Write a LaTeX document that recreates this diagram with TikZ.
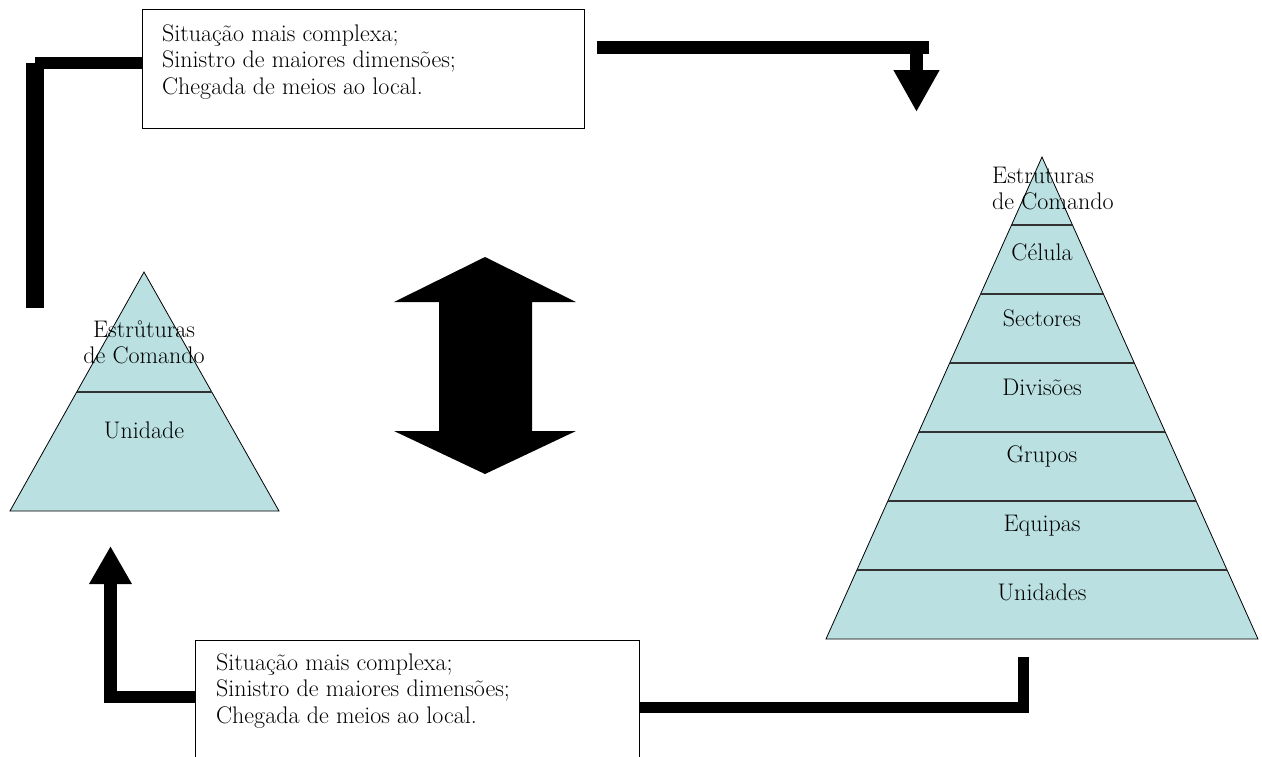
\documentclass[tikz,border=0pt]{standalone}
\usepackage{fontspec}
\usetikzlibrary{calc,arrows.meta}
\definecolor{pyrfill}{RGB}{186,224,226}
\definecolor{divline}{RGB}{50,50,50}
\tikzset{
  txt/.style={font=\fontsize{24}{26.5}\selectfont, inner sep=0pt},
  frame/.style={draw=black, line width=1.3pt, fill=white, inner sep=0pt},
  pyr/.style={fill=pyrfill, draw=black, line width=0.8pt},
  divider/.style={draw=divline, line width=2.2pt},
  thick bar/.style={line width=#1, black},
}
\begin{document}
\begin{tikzpicture}[x=1pt,y=-1pt]
\useasboundingbox (0,0) rectangle (1262,756);

% ---------- left pyramid ----------
\coordinate (LA) at (144,272);
\coordinate (LBL) at (10,511);
\coordinate (LBR) at (279,511);
\path[pyr] (LA) -- (LBL) -- (LBR) -- cycle;
\draw[divider] ($(LA)!0.502!(LBL)$) -- ($(LA)!0.502!(LBR)$);
\node[txt, anchor=north, align=center] (ltitle) at (144,320.5) {Estrůturas\\de Comando};
\node[txt, anchor=base] (lunid) at (144,438) {Unidade};

% ---------- right pyramid ----------
\coordinate (RA) at (1042,157);
\coordinate (RBL) at (826,639);
\coordinate (RBR) at (1258,639);
\path[pyr] (RA) -- (RBL) -- (RBR) -- cycle;
\foreach \t in {0.1411,0.2842,0.4274,0.5705,0.7137,0.8568}
  \draw[divider] ($(RA)!\t!(RBL)$) -- ($(RA)!\t!(RBR)$);
\node[txt, anchor=north west, align=left] (rtitle) at (992,166.6) {Estruturas\\de Comando};
\node[txt, anchor=base] (rcel) at (1042,260) {Célula};
\node[txt, anchor=base] (rsec) at (1042,326) {Sectores};
\node[txt, anchor=base] (rdiv) at (1042,395) {Divisões};
\node[txt, anchor=base] (rgru) at (1042,462) {Grupos};
\node[txt, anchor=base] (requ) at (1042,531) {Equipas};
\node[txt, anchor=base] (runi) at (1042,600) {Unidades};

% ---------- boxes ----------
\node[frame, minimum width=442pt, minimum height=119pt, anchor=north west] (box1) at (142,9) {};
\node[txt, anchor=north west, align=left] (t1) at (162,24.3)
  {Situação mais complexa;\\Sinistro de maiores dimensões;\\Chegada de meios ao local.};
\node[frame, minimum width=444pt, minimum height=140pt, anchor=north west] (box2) at (195,640) {};
\node[txt, anchor=north west, align=left] (t2) at (216,653.3)
  {Situação mais complexa;\\Sinistro de maiores dimensões;\\Chegada de meios ao local.};

% ---------- connectors ----------
% top-left: from box1 to left pyramid region
\coordinate (tlc) at (35,63);
\coordinate (tlend) at (35,308);
\draw[thick bar=12pt] (box1.west |- tlc) -- (tlc);
\draw[thick bar=18pt] ($(tlc)+(0,-0.5)$) -- (tlend);

% top-right: from near box1 to right pyramid, with arrow head
\coordinate (trs) at (597,47.5);
\coordinate (trc) at (929,47.5);
\coordinate (trd) at (916.5,54);
\coordinate (trtip) at (916.5,112);
\draw[thick bar=13pt] (trs) -- (trc);
\draw[thick bar=13pt, -{Triangle[width=43pt,length=42pt]}] ($(trd)+(0,-1)$) -- (trtip);

% bottom-right: from right pyramid down to box2
\coordinate (brs) at (1023.5,657);
\coordinate (brc) at (1023.5,707.5);
\draw[thick bar=11pt] (brs) -- (brc) -- (box2.east |- brc);

% bottom-left: from box2 up to the left pyramid, with arrow head
\coordinate (blc) at (110.5,697);
\coordinate (bltip) at (110.5,546);
\draw[thick bar=12pt] (box2.west |- blc) -- ($(blc)+(-6.5,0)$);
\draw[thick bar=13pt, -{Triangle[width=40pt,length=38pt]}] ($(blc)+(0,-1)$) -- (bltip);

% ---------- central double arrow ----------
\fill[black] (485,257) -- (576,302) -- (532,302) -- (532,431) -- (576,431)
  -- (485,474) -- (394,431) -- (439,431) -- (439,302) -- (394,302) -- cycle;
\end{tikzpicture}
\end{document}
